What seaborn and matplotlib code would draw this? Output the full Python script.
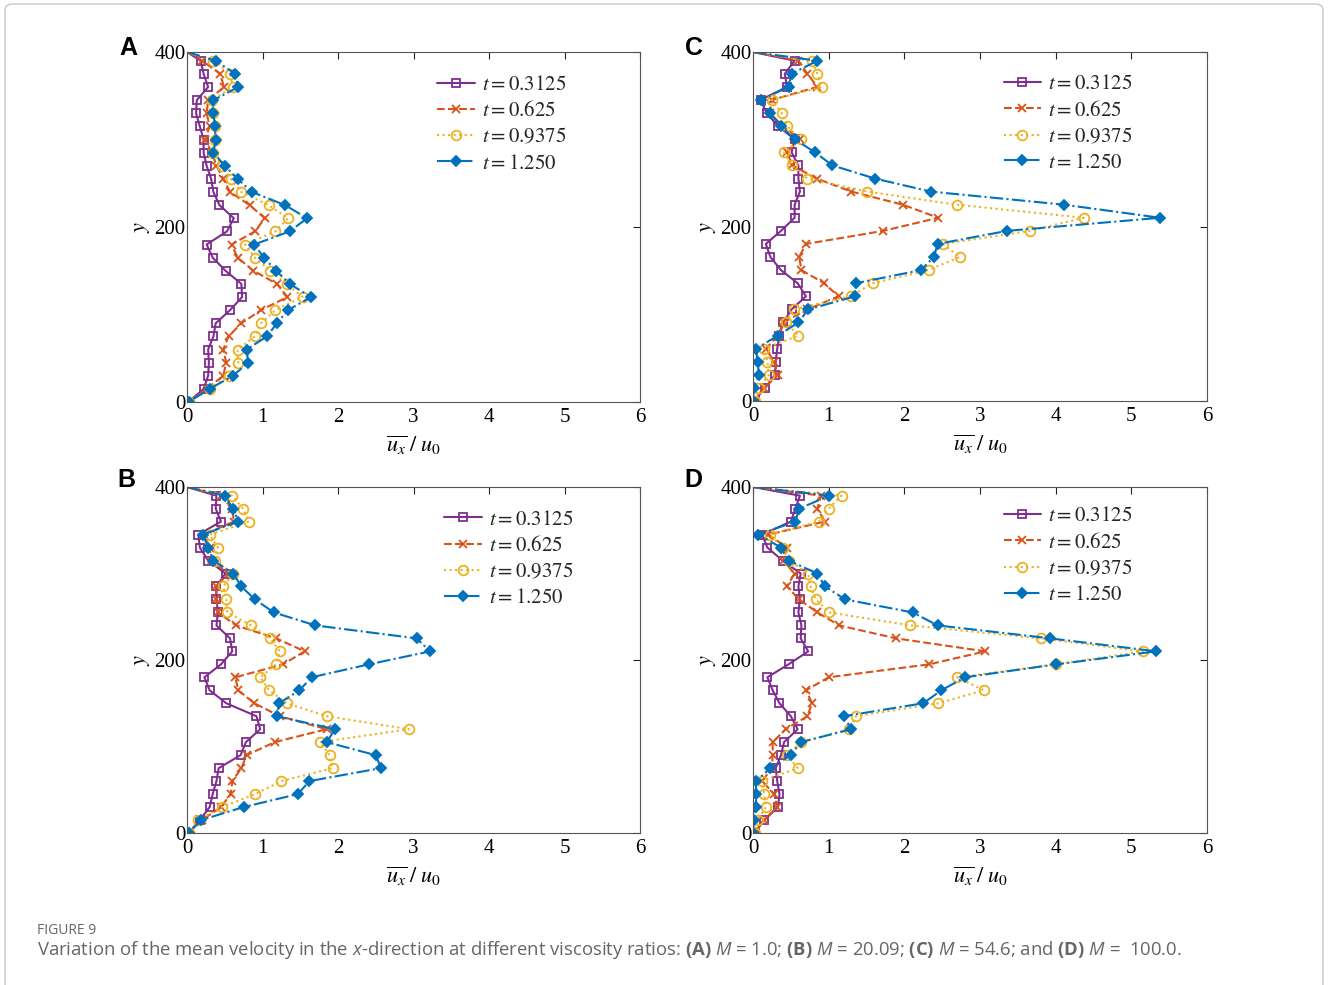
import numpy as np
import pandas as pd
import matplotlib
matplotlib.use("Agg")
import matplotlib.pyplot as plt
import seaborn as sns
from matplotlib.patches import FancyBboxPatch

sns.set_theme(style="white")
plt.rcParams['font.family'] = ['Liberation Serif', 'DejaVu Serif']
plt.rcParams['mathtext.fontset'] = 'stix'
plt.rcParams['mathtext.rm'] = 'Open Sans'
plt.rcParams['mathtext.it'] = 'Open Sans:italic'
plt.rcParams['mathtext.bf'] = 'Open Sans:bold'

# ---------------- data ----------------
y_levels = [400, 390, 375, 360, 345, 330, 315, 300, 285, 270, 255, 240, 225, 210,
            195, 180, 165, 150, 135, 120, 105, 90, 75, 60, 45, 30, 15, 0]
times = ["0.3125", "0.625", "0.9375", "1.250"]
panels = ["A", "B", "C", "D"]

# Panel A (M = 1.0)
A_t1 = [0.0, 0.18, 0.22, 0.28, 0.13, 0.12, 0.17, 0.22, 0.22, 0.26, 0.32, 0.35, 0.43, 0.62, 0.53, 0.26, 0.34, 0.51, 0.72, 0.73, 0.57, 0.38, 0.35, 0.28, 0.29, 0.28, 0.22, 0.02]
A_t2 = [0.0, 0.20, 0.44, 0.49, 0.28, 0.26, 0.30, 0.24, 0.33, 0.39, 0.48, 0.57, 0.83, 1.03, 0.90, 0.59, 0.67, 0.88, 1.19, 1.33, 0.98, 0.72, 0.55, 0.48, 0.52, 0.48, 0.26, 0.02]
A_t3 = [0.0, 0.35, 0.57, 0.61, 0.33, 0.35, 0.37, 0.37, 0.35, 0.46, 0.58, 0.72, 1.08, 1.34, 1.17, 0.77, 0.90, 1.10, 1.32, 1.53, 1.17, 0.98, 0.90, 0.67, 0.68, 0.55, 0.30, 0.02]
A_t4 = [0.0, 0.38, 0.64, 0.68, 0.35, 0.35, 0.37, 0.38, 0.35, 0.50, 0.67, 0.86, 1.30, 1.59, 1.36, 0.89, 1.02, 1.18, 1.36, 1.64, 1.34, 1.19, 1.06, 0.79, 0.81, 0.61, 0.30, 0.02]

# Panel B (M = 20.09)
B_t1 = [0.0, 0.39, 0.38, 0.45, 0.15, 0.17, 0.28, 0.51, 0.39, 0.39, 0.41, 0.39, 0.57, 0.60, 0.45, 0.23, 0.30, 0.52, 0.92, 0.97, 0.78, 0.71, 0.42, 0.39, 0.34, 0.30, 0.17, 0.02]
B_t2 = [0.0, 0.45, 0.60, 0.62, 0.22, 0.30, 0.32, 0.55, 0.38, 0.39, 0.41, 0.65, 1.18, 1.56, 1.27, 0.64, 0.68, 0.89, 1.23, 1.85, 1.16, 0.79, 0.72, 0.60, 0.58, 0.45, 0.20, 0.02]
B_t3 = [0.0, 0.60, 0.74, 0.82, 0.30, 0.41, 0.37, 0.61, 0.48, 0.52, 0.53, 0.85, 1.10, 1.23, 1.18, 0.97, 1.09, 1.32, 1.85, 2.94, 1.76, 1.89, 1.93, 1.25, 0.90, 0.47, 0.15, 0.02]
B_t4 = [0.0, 0.50, 0.61, 0.68, 0.21, 0.28, 0.35, 0.61, 0.72, 0.90, 1.15, 1.70, 3.04, 3.22, 2.41, 1.65, 1.49, 1.22, 1.19, 1.96, 1.85, 2.50, 2.57, 1.62, 1.47, 0.75, 0.19, 0.02]

# Panel C (M = 54.6)
C_t1 = [0.0, 0.55, 0.42, 0.45, 0.10, 0.18, 0.33, 0.55, 0.51, 0.60, 0.60, 0.62, 0.55, 0.55, 0.37, 0.17, 0.23, 0.37, 0.59, 0.70, 0.51, 0.40, 0.35, 0.32, 0.30, 0.29, 0.16, 0.02]
C_t2 = [0.0, 0.60, 0.72, 0.85, 0.25, 0.22, 0.40, 0.62, 0.45, 0.52, 0.84, 1.30, 1.98, 2.45, 1.72, 0.70, 0.61, 0.64, 0.94, 1.13, 0.72, 0.40, 0.33, 0.17, 0.28, 0.33, 0.15, 0.02]
C_t3 = [0.0, 0.78, 0.85, 0.91, 0.25, 0.38, 0.45, 0.63, 0.41, 0.51, 0.72, 1.51, 2.69, 4.37, 3.66, 2.51, 2.73, 2.32, 1.58, 1.29, 0.54, 0.43, 0.60, 0.15, 0.19, 0.21, 0.08, 0.02]
C_t4 = [0.0, 0.85, 0.51, 0.47, 0.10, 0.22, 0.37, 0.55, 0.82, 1.05, 1.61, 2.35, 4.11, 5.38, 3.36, 2.44, 2.39, 2.22, 1.36, 1.35, 0.73, 0.60, 0.33, 0.04, 0.06, 0.08, 0.01, 0.0]

# Panel D (M = 100.0)
D_t1 = [0.0, 0.62, 0.56, 0.50, 0.12, 0.19, 0.39, 0.63, 0.60, 0.62, 0.60, 0.64, 0.63, 0.73, 0.47, 0.19, 0.26, 0.35, 0.50, 0.59, 0.41, 0.37, 0.30, 0.32, 0.35, 0.33, 0.15, 0.02]
D_t2 = [0.0, 0.90, 0.85, 0.95, 0.20, 0.45, 0.40, 0.55, 0.45, 0.61, 0.85, 1.14, 1.89, 3.07, 2.33, 1.00, 0.70, 0.78, 0.72, 0.43, 0.26, 0.26, 0.25, 0.12, 0.28, 0.32, 0.15, 0.02]
D_t3 = [0.0, 1.17, 1.00, 0.87, 0.22, 0.39, 0.48, 0.73, 0.76, 0.83, 1.01, 2.08, 3.80, 5.15, 4.01, 2.70, 3.05, 2.45, 1.36, 1.27, 0.63, 0.45, 0.59, 0.12, 0.15, 0.17, 0.06, 0.02]
D_t4 = [0.0, 1.01, 0.61, 0.56, 0.07, 0.37, 0.47, 0.85, 0.95, 1.22, 2.11, 2.44, 3.93, 5.33, 4.01, 2.80, 2.49, 2.25, 1.20, 1.30, 0.63, 0.50, 0.23, 0.04, 0.04, 0.04, 0.01, 0.0]

panel_data = {"A": [A_t1, A_t2, A_t3, A_t4], "B": [B_t1, B_t2, B_t3, B_t4],
              "C": [C_t1, C_t2, C_t3, C_t4], "D": [D_t1, D_t2, D_t3, D_t4]}

# ---------------- styles ----------------
colors = ["#7E2F8E", "#D95319", "#EDB120", "#0072BD"]
lstyles = ["-", "--", ":", "-."]
mks = ["s", "x", "o", "D"]
msizes = [5.5, 5.5, 7, 5.5]
mfcs = ["none", "none", "none", None]

W, H = 1328, 985
fig = plt.figure(figsize=(W / 100, H / 100), dpi=100)
fig.patch.set_facecolor("white")

# border frame
frame = FancyBboxPatch((5 / W, -0.05), 1318 / W, 1 - 4 / H + 0.05,
                       boxstyle="round,pad=0,rounding_size=0.006",
                       transform=fig.transFigure, fill=False,
                       edgecolor="#c8c8c8", linewidth=1.0)
fig.patches.append(frame)

# axes boxes in pixels (left, top, right, bottom)
boxes = {"A": (187, 52, 640, 402), "C": (753, 52, 1207, 401),
         "B": (187, 487, 640, 833), "D": (753, 487, 1207, 833)}
letter_pos = {"A": (128, 48), "B": (126, 480), "C": (694, 48), "D": (693, 480)}
leg_anchor = {"A": (0.552, 0.933), "B": (0.568, 0.933), "C": (0.552, 0.935), "D": (0.552, 0.943)}

for p in panels:
    l, t, r, b = boxes[p]
    ax = fig.add_axes([l / W, 1 - b / H, (r - l) / W, (b - t) / H])
    for i, xs in enumerate(panel_data[p]):
        kw = dict(marker=mks[i], markersize=msizes[i], markeredgecolor=colors[i],
                  markeredgewidth=1.3, markevery=list(range(1, len(y_levels))))
        kw["markerfacecolor"] = mfcs[i] if mfcs[i] is not None else colors[i]
        sns.lineplot(x=xs, y=y_levels, ax=ax, sort=False, estimator=None,
                     orient="y", color=colors[i], linestyle=lstyles[i],
                     linewidth=1.5, label=rf"$t = {times[i]}$", **kw)
    ax.set_xlim(0, 6)
    ax.set_ylim(0, 400)
    ax.set_xticks(range(0, 7))
    ax.set_yticks([0, 200, 400])
    ax.tick_params(axis="both", direction="in", top=True, right=True, length=5,
                   width=0.8, labelsize=15, colors="#222222", labelcolor="black")
    ax.tick_params(axis="y", pad=1)
    ax.tick_params(axis="x", pad=4)
    for s in ax.spines.values():
        s.set_color("#555555")
        s.set_linewidth(0.8)
    ax.set_xlabel(r"$\overline{u_x}\;/\;u_0$", fontsize=16, labelpad=5, color="black")
    ax.set_ylabel(r"$y$", fontsize=16, labelpad=2, color="black")
    ax.legend(loc="upper left", bbox_to_anchor=leg_anchor[p], frameon=False,
              fontsize=15, handlelength=1.8, handletextpad=0.35, labelspacing=0.3,
              borderaxespad=0, borderpad=0)
    lx, ly = letter_pos[p]
    fig.text(lx / W, 1 - ly / H, p, family="Liberation Sans", fontweight="bold",
             fontsize=18, ha="center", va="center", color="black")

# caption
fig.text(37 / W, 1 - 930 / H, "FIGURE 9", family="Open Sans", fontsize=10,
         color="#666666", ha="left", va="center")
cap = (r"Variation of the mean velocity in the $\mathit{x}$-direction at different viscosity ratios: "
       r"$\mathbf{(A)}$ $\mathit{M}$ = 1.0; $\mathbf{(B)}$ $\mathit{M}$ = 20.09; "
       r"$\mathbf{(C)}$ $\mathit{M}$ = 54.6; and $\mathbf{(D)}$ $\mathit{M}$ =  100.0.")
fig.text(37 / W, 1 - 950 / H, cap, family="Open Sans", fontsize=13.3, color="#666666",
         ha="left", va="center", math_fontfamily="custom")

fig.savefig("out.png", dpi=100, facecolor="white")
